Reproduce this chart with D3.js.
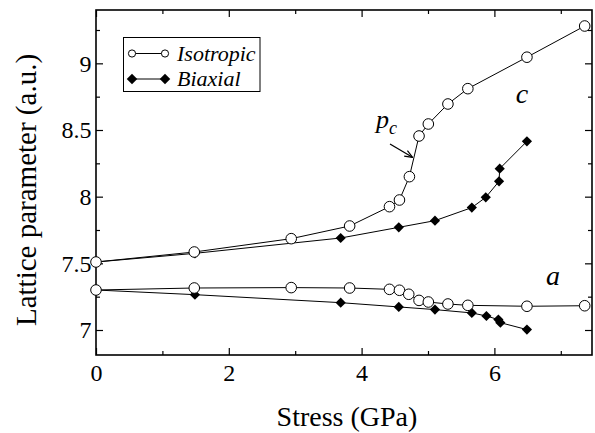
<!DOCTYPE html>
<html>
<head>
<meta charset="utf-8">
<script src="https://cdn.jsdelivr.net/npm/d3@7"></script>
<style>
  html, body { margin: 0; padding: 0; background: #fff; }
  svg text, svg tspan { font-family: 'Liberation Serif' !important; }
</style>
</head>
<body>
<svg id="chart" width="595" height="433"></svg>
<script>
// ---- data ----
const isoCX = [0, 1.48, 2.94, 3.82, 4.42, 4.57, 4.72, 4.865, 5.005, 5.30, 5.60, 6.49, 7.36];
const isoCY = [7.51, 7.585, 7.685, 7.78, 7.925, 7.975, 8.15, 8.455, 8.545, 8.695, 8.81, 9.046, 9.28];
const isoAX = [0, 1.48, 2.94, 3.82, 4.42, 4.57, 4.71, 4.865, 5.005, 5.30, 5.60, 6.49, 7.36];
const isoAY = [7.30, 7.315, 7.318, 7.315, 7.305, 7.298, 7.268, 7.222, 7.21, 7.195, 7.185, 7.178, 7.182];
const biaCX = [0, 1.49, 3.685, 4.56, 5.105, 5.66, 5.87, 6.07, 6.08, 6.49];
const biaCY = [7.51, 7.575, 7.69, 7.77, 7.82, 7.918, 7.995, 8.115, 8.21, 8.415];
const biaAX = [0, 1.49, 3.685, 4.56, 5.105, 5.66, 5.88, 6.06, 6.09, 6.49];
const biaAY = [7.30, 7.265, 7.205, 7.173, 7.153, 7.128, 7.105, 7.078, 7.055, 7.003];
const xMajor = [0, 2, 4, 6];
const xMinor = [1, 3, 5, 7];
const yMajor = [7, 7.5, 8, 8.5, 9];
const yMinor = [7.25, 7.75, 8.25, 8.75, 9.25];
const yLabels = ["7", "7.5", "8", "8.5", "9"];
const legendNames = ["Isotropic", "Biaxial"];

// ---- layout ----
const L = 96, R = 592, T = 10, B = 355;
const svg = d3.select("#chart");
const x = d3.scaleLinear().domain([0, 7.47]).range([L, R]);
const y = d3.scaleLinear().domain([6.8125, 9.4]).range([B, T]);

const zip = (xs, ys) => xs.map((v, i) => ({x: v, y: ys[i]}));
const isoC = zip(isoCX, isoCY), isoA = zip(isoAX, isoAY);
const biaC = zip(biaCX, biaCY), biaA = zip(biaAX, biaAY);

function txt(sel, size, italic) {
  return sel.style("font-family", "'Liberation Serif'").style("font-size", size + "px")
    .style("font-style", italic ? "italic" : "normal").attr("fill", "#000");
}

// ---- axes ----
function styleAxis(g) {
  g.attr("font-family", null).attr("font-size", null);
  g.select(".domain").remove();
  g.selectAll(".tick line").attr("stroke", "#000").attr("stroke-width", 1.2);
  txt(g.selectAll(".tick text"), 24, false);
}
svg.append("g").attr("transform", `translate(0,${B})`)
  .call(d3.axisBottom(x).tickValues(xMajor).tickSize(-7).tickPadding(9).tickFormat(d3.format("d")))
  .call(styleAxis);
svg.append("g").attr("transform", `translate(0,${B})`)
  .call(d3.axisBottom(x).tickValues(xMinor).tickSize(-4).tickFormat(""))
  .call(styleAxis);
svg.append("g").attr("transform", `translate(0,${T})`)
  .call(d3.axisTop(x).tickValues(xMajor).tickSize(-7).tickFormat(""))
  .call(styleAxis);
svg.append("g").attr("transform", `translate(0,${T})`)
  .call(d3.axisTop(x).tickValues(xMinor).tickSize(-4).tickFormat(""))
  .call(styleAxis);
svg.append("g").attr("transform", `translate(${L},0)`)
  .call(d3.axisLeft(y).tickValues(yMajor).tickSize(-7).tickPadding(4.5).tickFormat((d, i) => yLabels[i]))
  .call(styleAxis);
svg.append("g").attr("transform", `translate(${L},0)`)
  .call(d3.axisLeft(y).tickValues(yMinor).tickSize(-4).tickFormat(""))
  .call(styleAxis);
svg.append("g").attr("transform", `translate(${R},0)`)
  .call(d3.axisRight(y).tickValues(yMajor).tickSize(-7).tickFormat(""))
  .call(styleAxis);
svg.append("g").attr("transform", `translate(${R},0)`)
  .call(d3.axisRight(y).tickValues(yMinor).tickSize(-4).tickFormat(""))
  .call(styleAxis);

// frame
svg.append("rect").attr("x", L).attr("y", T).attr("width", R - L).attr("height", B - T)
  .attr("fill", "none").attr("stroke", "#000").attr("stroke-width", 1.6);

// axis titles
txt(svg.append("text").attr("x", 347).attr("y", 426).attr("text-anchor", "middle"), 28, false)
  .text("Stress (GPa)");
txt(svg.append("text").attr("transform", "translate(36,190) rotate(-90)").attr("text-anchor", "middle"), 29, false)
  .text("Lattice parameter (a.u.)");

// ---- lines ----
const line = d3.line().x(d => x(d.x)).y(d => y(d.y));
[isoC, isoA, biaC, biaA].forEach(s => {
  svg.append("path").datum(s).attr("d", line).attr("fill", "none")
    .attr("stroke", "#000").attr("stroke-width", 1);
});

// ---- markers ----
function drawDiamonds(s) {
  svg.append("g").selectAll("path").data(s.filter(d => d.x > 0)).join("path")
    .attr("d", d3.symbol().type(d3.symbolSquare).size(52))
    .attr("transform", d => `translate(${x(d.x)},${y(d.y)}) rotate(45)`)
    .attr("fill", "#000");
}
function drawCircles(s) {
  svg.append("g").selectAll("circle").data(s).join("circle")
    .attr("cx", d => x(d.x)).attr("cy", d => y(d.y)).attr("r", 5.3)
    .attr("fill", "#fff").attr("stroke", "#000").attr("stroke-width", 1);
}
drawDiamonds(biaC); drawDiamonds(biaA);
drawCircles(isoC); drawCircles(isoA);

// ---- annotations ----
txt(svg.append("text").attr("x", 522).attr("y", 103).attr("text-anchor", "middle"), 28, true).text("c");
txt(svg.append("text").attr("x", 553).attr("y", 285).attr("text-anchor", "middle"), 28, true).text("a");
const pc = txt(svg.append("text").attr("x", 376).attr("y", 128), 26, true);
pc.append("tspan").text("p");
pc.append("tspan").attr("dy", 6).style("font-size", "18px").text("c");

svg.append("defs").append("marker").attr("id", "arr").attr("viewBox", "0 0 10 10")
  .attr("refX", 9).attr("refY", 5).attr("markerWidth", 8).attr("markerHeight", 8)
  .attr("orient", "auto").attr("markerUnits", "userSpaceOnUse")
  .append("path").attr("d", "M0,1 L10,5 L0,9").attr("fill", "none").attr("stroke", "#000").attr("stroke-width", 1.5);
svg.append("line").attr("x1", 390).attr("y1", 144).attr("x2", 412).attr("y2", 157)
  .attr("stroke", "#000").attr("stroke-width", 1.3).attr("marker-end", "url(#arr)");

// ---- legend ----
const lg = svg.append("g");
lg.append("rect").attr("x", 123.5).attr("y", 37.5).attr("width", 136.5).attr("height", 54)
  .attr("fill", "#fff").attr("stroke", "#000").attr("stroke-width", 1);
const rows = [{y: 53.5, type: "circle"}, {y: 79, type: "diamond"}];
rows.forEach((r, i) => {
  lg.append("line").attr("x1", 132).attr("x2", 165).attr("y1", r.y).attr("y2", r.y)
    .attr("stroke", "#000").attr("stroke-width", 1);
  [132, 165].forEach(cx => {
    if (r.type === "circle") {
      lg.append("circle").attr("cx", cx).attr("cy", r.y).attr("r", 3.6)
        .attr("fill", "#fff").attr("stroke", "#000").attr("stroke-width", 1);
    } else {
      lg.append("path").attr("d", d3.symbol().type(d3.symbolSquare).size(55))
        .attr("transform", `translate(${cx},${r.y}) rotate(45)`).attr("fill", "#000");
    }
  });
  txt(lg.append("text").attr("x", 177).attr("y", r.y + 7), 22, true).text(legendNames[i]);
});
</script>
</body>
</html>
